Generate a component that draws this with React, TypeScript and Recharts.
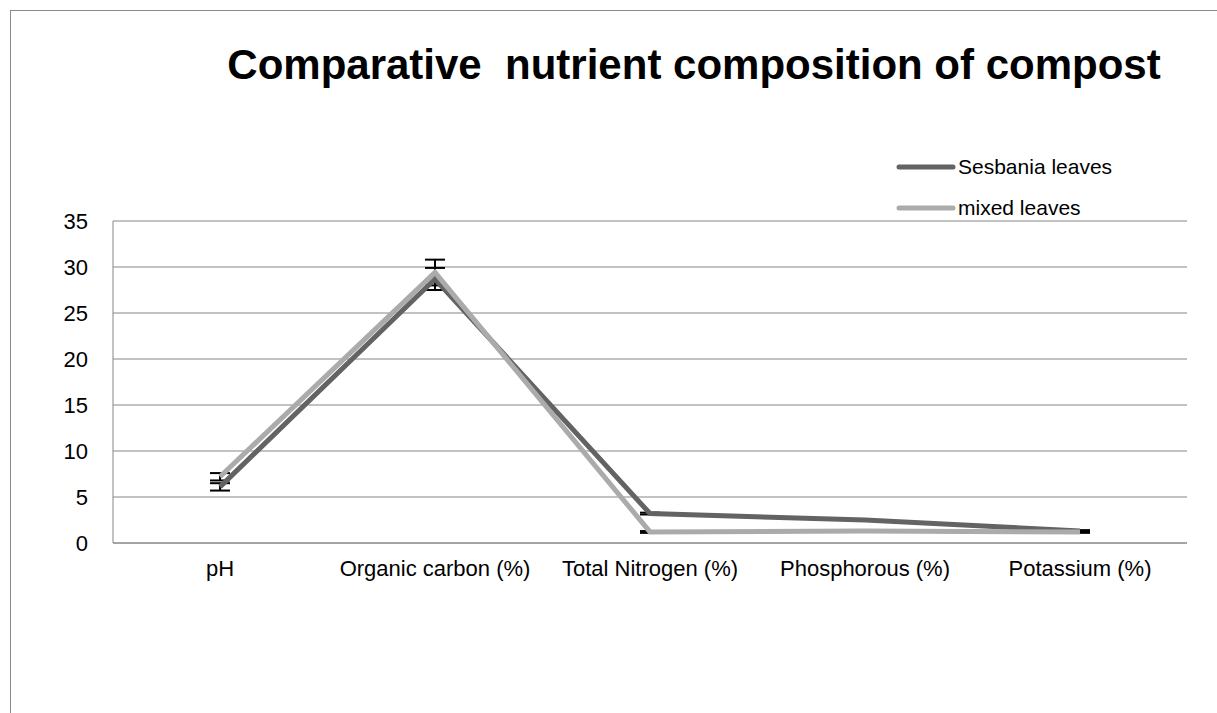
import { LineChart, Line, XAxis, YAxis, CartesianGrid, ErrorBar } from 'recharts';

const categories = ['pH', 'Organic carbon (%)', 'Total Nitrogen (%)', 'Phosphorous (%)', 'Potassium (%)'];
const sesbania = [6.1, 28.7, 3.2, 2.5, 1.3];
const sesbaniaErr = [0.4, 1.2, 0.1, 0.1, 0.1];
const mixed = [7.2, 29.4, 1.2, 1.3, 1.2];
const mixedErr = [0.4, 1.4, 0.1, 0.1, 0.1];
const yTicks = [0, 5, 10, 15, 20, 25, 30, 35];

const seriesNames = ['Sesbania leaves', 'mixed leaves'];
const seriesColors = ['#636363', '#ababab'];

const FONT = '"Liberation Sans", Arial, sans-serif';
const GRID = '#868686';

const data = categories.map((name, i) => ({
  name,
  sesbania: sesbania[i],
  sesbaniaErr: sesbaniaErr[i],
  mixed: mixed[i],
  mixedErr: mixedErr[i],
}));

const App = () => {
  return (
    <div style={{ position: 'absolute', left: 0, top: 0, width: 1217, height: 713, overflow: 'hidden', fontFamily: FONT }}>
      <div
        style={{
          position: 'absolute',
          left: 10,
          top: 10,
          width: 1207,
          height: 703,
          borderLeft: '1px solid #898989',
          borderTop: '1px solid #898989',
          boxSizing: 'border-box',
        }}
      />
      <div
        style={{
          position: 'absolute',
          left: 0,
          width: 1388,
          top: 41,
          textAlign: 'center',
          fontSize: 42,
          fontWeight: 'bold',
          color: '#000',
          whiteSpace: 'pre',
        }}
      >
        {'Comparative  nutrient composition of compost'}
      </div>

      {/* legend sits inside the plot, top right */}
      <div style={{ position: 'absolute', left: 896, top: 146 }}>
        {seriesNames.map((s, i) => (
          <div key={s} style={{ display: 'flex', alignItems: 'center', height: 41 }}>
            <svg width={62} height={10}>
              <line x1={3} y1={5} x2={57} y2={5} stroke={seriesColors[i]} strokeWidth={5} strokeLinecap="round" />
            </svg>
            <span style={{ fontSize: 21, color: '#000' }}>{s}</span>
          </div>
        ))}
      </div>

      <div style={{ position: 'absolute', left: 0, top: 0 }}>
        <LineChart width={1217} height={713} data={data} margin={{ top: 221, right: 30, bottom: 140, left: 53 }}>
          <CartesianGrid horizontal vertical={false} stroke={GRID} />
          <XAxis
            dataKey="name"
            axisLine={{ stroke: GRID }}
            tickLine={false}
            tickSize={0}
            tickMargin={17}
            height={30}
            interval={0}
            padding={{ left: 107, right: 107 }}
            tick={{ fill: '#000', fontSize: 22, fontFamily: FONT }}
          />
          <YAxis
            domain={[0, 35]}
            ticks={yTicks}
            width={60}
            axisLine={{ stroke: GRID }}
            tickLine={false}
            tickSize={0}
            tickMargin={25}
            tick={{ fill: '#000', fontSize: 22, fontFamily: FONT }}
          />
          {/* error bars first so the lines cover them */}
          <Line dataKey="sesbania" stroke="none" dot={false} activeDot={false} isAnimationActive={false} legendType="none">
            <ErrorBar dataKey="sesbaniaErr" width={10} strokeWidth={2} stroke="#000" />
          </Line>
          <Line dataKey="mixed" stroke="none" dot={false} activeDot={false} isAnimationActive={false} legendType="none">
            <ErrorBar dataKey="mixedErr" width={10} strokeWidth={2} stroke="#000" />
          </Line>
          <Line
            dataKey="sesbania"
            name={seriesNames[0]}
            stroke={seriesColors[0]}
            strokeWidth={5}
            dot={false}
            activeDot={false}
            isAnimationActive={false}
          />
          <Line
            dataKey="mixed"
            name={seriesNames[1]}
            stroke={seriesColors[1]}
            strokeWidth={5}
            dot={false}
            activeDot={false}
            isAnimationActive={false}
          />
        </LineChart>
      </div>
    </div>
  );
};

export default App;
